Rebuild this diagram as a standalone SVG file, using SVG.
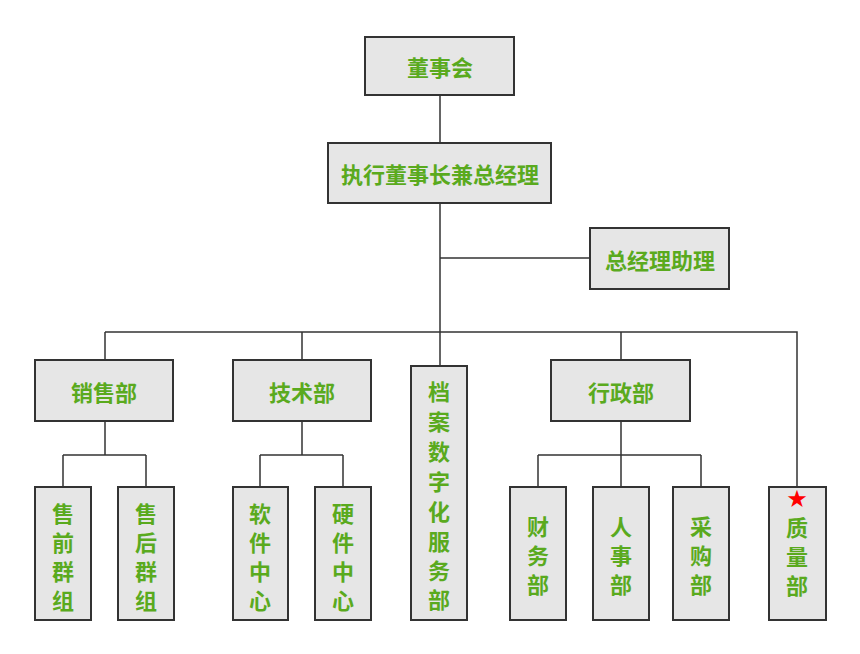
<svg xmlns="http://www.w3.org/2000/svg" width="860" height="654" viewBox="0 0 860 654">
<style>
.b{fill:#e6e6e6;stroke:#333;stroke-width:2}
.t{fill:#5aaa1e;font-family:"Noto Sans CJK SC",sans-serif;font-weight:bold;font-size:22px;text-anchor:middle;dominant-baseline:central}
.c{fill:none;stroke:#333;stroke-width:1.5}
</style>
<rect width="860" height="654" fill="#fff"/>
<g id="connectors" class="c">
<path d="M440 95V366M440 258H590M105 332H797V487M105 332V360M302 332V360M621 332V360"/>
<path d="M105 421V455M63 455H146M63 455V487M146 455V487"/>
<path d="M302 421V455M260 455H343M260 455V487M343 455V487"/>
<path d="M621 421V455M538 455H701M538 455V487M621 455V487M701 455V487"/>
</g>
<g id="n1"><rect class="b" x="365" y="37" width="149" height="58"/><text class="t" x="440" y="66">董事会</text></g>
<g id="n2"><rect class="b" x="328" y="143" width="223" height="60"/><text class="t" x="440" y="173">执行董事长兼总经理</text></g>
<g id="n3"><rect class="b" x="590" y="228" width="139" height="61"/><text class="t" x="660" y="259">总经理助理</text></g>
<g id="n4"><rect class="b" x="35" y="360" width="138" height="61"/><text class="t" x="104" y="391">销售部</text></g>
<g id="n5"><rect class="b" x="233" y="360" width="138" height="61"/><text class="t" x="302" y="391">技术部</text></g>
<g id="n6"><rect class="b" x="411" y="366" width="56" height="254"/><text class="t" x="439"><tspan x="439" y="390">档</tspan><tspan x="439" y="420">案</tspan><tspan x="439" y="450">数</tspan><tspan x="439" y="480">字</tspan><tspan x="439" y="510">化</tspan><tspan x="439" y="540">服</tspan><tspan x="439" y="569">务</tspan><tspan x="439" y="598">部</tspan></text></g>
<g id="n7"><rect class="b" x="551" y="360" width="139" height="61"/><text class="t" x="621" y="391">行政部</text></g>
<g id="n8"><rect class="b" x="35" y="487" width="56" height="133"/><text class="t"><tspan x="63" y="512">售</tspan><tspan x="63" y="541">前</tspan><tspan x="63" y="570">群</tspan><tspan x="63" y="599">组</tspan></text></g>
<g id="n9"><rect class="b" x="118" y="487" width="56" height="133"/><text class="t"><tspan x="146" y="512">售</tspan><tspan x="146" y="541">后</tspan><tspan x="146" y="570">群</tspan><tspan x="146" y="599">组</tspan></text></g>
<g id="n10"><rect class="b" x="233" y="487" width="55" height="133"/><text class="t"><tspan x="260" y="512">软</tspan><tspan x="260" y="541">件</tspan><tspan x="260" y="570">中</tspan><tspan x="260" y="599">心</tspan></text></g>
<g id="n11"><rect class="b" x="315" y="487" width="56" height="133"/><text class="t"><tspan x="343" y="512">硬</tspan><tspan x="343" y="541">件</tspan><tspan x="343" y="570">中</tspan><tspan x="343" y="599">心</tspan></text></g>
<g id="n12"><rect class="b" x="510" y="487" width="56" height="133"/><text class="t"><tspan x="538" y="525">财</tspan><tspan x="538" y="554">务</tspan><tspan x="538" y="583">部</tspan></text></g>
<g id="n13"><rect class="b" x="593" y="487" width="56" height="133"/><text class="t"><tspan x="621" y="525">人</tspan><tspan x="621" y="554">事</tspan><tspan x="621" y="583">部</tspan></text></g>
<g id="n14"><rect class="b" x="673" y="487" width="56" height="133"/><text class="t"><tspan x="701" y="525">采</tspan><tspan x="701" y="554">购</tspan><tspan x="701" y="583">部</tspan></text></g>
<g id="n15"><rect class="b" x="769" y="487" width="57" height="133"/><text class="t" x="797" y="499" style="fill:#f00;font-family:'DejaVu Sans',sans-serif;font-size:24px">★</text><text class="t"><tspan x="797" y="526">质</tspan><tspan x="797" y="555">量</tspan><tspan x="797" y="584">部</tspan></text></g>
</svg>
